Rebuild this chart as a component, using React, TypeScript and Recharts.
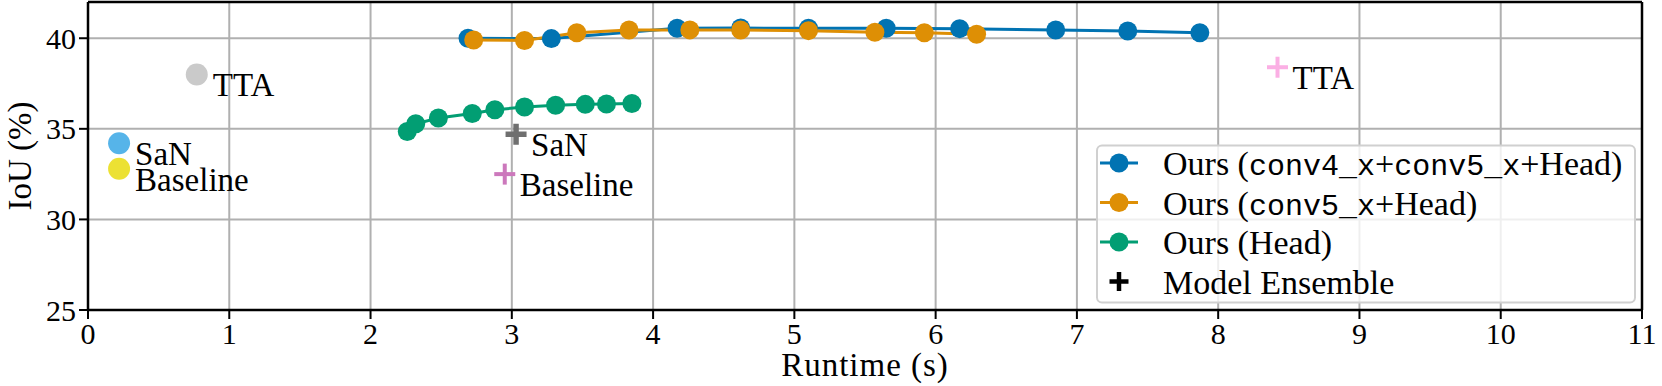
import React from 'react';
import { ComposedChart, Line, Scatter, XAxis, YAxis, CartesianGrid, ReferenceLine } from 'recharts';

// ---- data ----
const blueX = [2.69, 3.28, 4.17, 4.62, 5.1, 5.65, 6.17, 6.85, 7.36, 7.87];
const blueY = [40.0, 39.98, 40.55, 40.56, 40.55, 40.55, 40.53, 40.45, 40.4, 40.3];

const orangeX = [2.73, 3.09, 3.46, 3.83, 4.26, 4.62, 5.1, 5.57, 5.92, 6.29];
const orangeY = [39.9, 39.88, 40.3, 40.45, 40.46, 40.45, 40.42, 40.33, 40.3, 40.22];

const greenX = [2.26, 2.32, 2.48, 2.72, 2.88, 3.09, 3.31, 3.52, 3.67, 3.85];
const greenY = [34.85, 35.28, 35.6, 35.85, 36.05, 36.2, 36.3, 36.35, 36.37, 36.4];

const singleLabels = ['TTA', 'SaN', 'Baseline'];
const singleX = [0.77, 0.22, 0.22];
const singleY = [38.0, 34.2, 32.8];

const ensembleLabels = ['SaN', 'Baseline', 'TTA'];
const ensembleX = [3.03, 2.95, 8.42];
const ensembleY = [34.7, 32.5, 38.4];

const xTicks = [0, 1, 2, 3, 4, 5, 6, 7, 8, 9, 10, 11];
const yTicks = [25, 30, 35, 40];

const legendNames = ['Ours (conv4_x+conv5_x+Head)', 'Ours (conv5_x+Head)', 'Ours (Head)', 'Model Ensemble'];

// ---- styles ----
const SERIF = '"Liberation Serif", "Times New Roman", serif';
const MONO = '"Liberation Mono", "DejaVu Sans Mono", monospace';
const FS = 33;
const TICK_FS = 30;
const LEG_FS = 34;
const BLUE = '#0173b2';
const ORANGE = '#de8f05';
const GREEN = '#029e73';
const singleColors: Record<string, string> = { TTA: '#cacaca', SaN: '#56b4e9', Baseline: '#ece133' };
const ensembleColors: Record<string, string> = { SaN: '#6f6f6f', Baseline: '#cc78bc', TTA: '#fbafe4' };
const ensembleWidths: Record<string, number> = { SaN: 5.5, Baseline: 4, TTA: 4 };

const zip = (xs: number[], ys: number[]) => xs.map((x, i) => ({ x, y: ys[i] }));
const blueData = zip(blueX, blueY);
const orangeData = zip(orangeX, orangeY);
const greenData = zip(greenX, greenY);
const singleData = singleX.map((x, i) => ({ x, y: singleY[i], label: singleLabels[i] }));
const ensembleData = ensembleX.map((x, i) => ({ x, y: ensembleY[i], label: ensembleLabels[i] }));

const CircleShape = (props: any) => {
  const { cx, cy, payload } = props;
  return (
    <g>
      <circle cx={cx} cy={cy} r={11} fill={singleColors[payload.label]} />
      <text x={cx + 16} y={cy + 22} fontFamily={SERIF} fontSize={FS} fill="#000">{payload.label}</text>
    </g>
  );
};

const PlusShape = (props: any) => {
  const { cx, cy, payload } = props;
  const c = ensembleColors[payload.label];
  const w = ensembleWidths[payload.label];
  const h = 10.5;
  return (
    <g>
      <line x1={cx - h} y1={cy} x2={cx + h} y2={cy} stroke={c} strokeWidth={w} />
      <line x1={cx} y1={cy - h} x2={cx} y2={cy + h} stroke={c} strokeWidth={w} />
      <text x={cx + 15} y={cy + 22} fontFamily={SERIF} fontSize={FS} fill="#000">{payload.label}</text>
    </g>
  );
};

const renderLegendText = (name: string) => {
  const parts = name.split(/(conv\d_x)/);
  return parts.map((p, i) =>
    /conv\d_x/.test(p) ? (
      <tspan key={i} fontFamily={MONO} fontSize={30}>{p}</tspan>
    ) : (
      <tspan key={i}>{p}</tspan>
    )
  );
};

const LegendBox = () => {
  const colors = [BLUE, ORANGE, GREEN];
  const rowY = [163, 202.5, 242, 281.5];
  return (
    <svg width={1662} height={386} style={{ position: 'absolute', left: 0, top: 0, pointerEvents: 'none' }}>
      <rect x={1097} y={145.5} width={538} height={157} rx={5} fill="#ffffff" fillOpacity={0.8} stroke="#d0d0d0" strokeWidth={2} />
      {legendNames.map((n, i) => (
        <g key={n}>
          {i < 3 ? (
            <g>
              <line x1={1100} y1={rowY[i]} x2={1138} y2={rowY[i]} stroke={colors[i]} strokeWidth={3} />
              <circle cx={1119} cy={rowY[i]} r={9.5} fill={colors[i]} />
            </g>
          ) : (
            <g>
              <line x1={1109.5} y1={rowY[i]} x2={1128.5} y2={rowY[i]} stroke="#000" strokeWidth={4.5} />
              <line x1={1119} y1={rowY[i] - 9.5} x2={1119} y2={rowY[i] + 9.5} stroke="#000" strokeWidth={4.5} />
            </g>
          )}
          <text x={1163} y={rowY[i] + 12} fontFamily={SERIF} fontSize={LEG_FS} fill="#000">{renderLegendText(n)}</text>
        </g>
      ))}
    </svg>
  );
};

export default function App() {
  return (
    <div style={{ position: 'absolute', left: 0, top: 0, width: 1662, height: 386, background: '#fff' }}>
      <ComposedChart width={1662} height={386} margin={{ top: 2, right: 20, bottom: 0, left: 0 }}>
        <CartesianGrid stroke="#b0b0b0" strokeWidth={2} />
        <XAxis
          dataKey="x"
          type="number"
          domain={[0, 11]}
          ticks={xTicks}
          interval={0}
          height={76}
          axisLine={{ stroke: '#000', strokeWidth: 2.5 }}
          tickLine={{ stroke: '#000', strokeWidth: 2 }}
          tickSize={9}
          tickMargin={4}
          tick={{ fontFamily: SERIF, fontSize: TICK_FS, fill: '#000' }}
          label={{
            content: (p: any) => {
              const vb = p.viewBox;
              return (
                <text x={vb.x + vb.width / 2} y={vb.y + 66} textAnchor="middle" fontFamily={SERIF} fontSize={FS} letterSpacing={1} fill="#000">
                  Runtime (s)
                </text>
              );
            },
          }}
        />
        <YAxis
          dataKey="y"
          type="number"
          domain={[25, 42]}
          ticks={yTicks}
          interval={0}
          width={88}
          axisLine={{ stroke: '#000', strokeWidth: 2.5 }}
          tickLine={{ stroke: '#000', strokeWidth: 2 }}
          tickSize={9}
          tickMargin={3}
          tick={{ fontFamily: SERIF, fontSize: TICK_FS, fill: '#000' }}
          label={{
            content: (p: any) => {
              const vb = p.viewBox;
              const cx = 20;
              const cy = vb.y + vb.height / 2;
              return (
                <text x={cx} y={cy} transform={`rotate(-90 ${cx} ${cy})`} textAnchor="middle" dominantBaseline="central" fontFamily={SERIF} fontSize={FS} fill="#000">
                  IoU (%)
                </text>
              );
            },
          }}
        />
        <ReferenceLine y={42} stroke="#000" strokeWidth={2.5} ifOverflow="visible" />
        <ReferenceLine x={11} stroke="#000" strokeWidth={2.5} ifOverflow="visible" />
        <Line data={blueData} dataKey="y" stroke={BLUE} strokeWidth={3} dot={{ r: 9.5, fill: BLUE, stroke: BLUE, strokeWidth: 0 }} isAnimationActive={false} type="linear" />
        <Line data={orangeData} dataKey="y" stroke={ORANGE} strokeWidth={3} dot={{ r: 9.5, fill: ORANGE, stroke: ORANGE, strokeWidth: 0 }} isAnimationActive={false} type="linear" />
        <Line data={greenData} dataKey="y" stroke={GREEN} strokeWidth={3} dot={{ r: 9.5, fill: GREEN, stroke: GREEN, strokeWidth: 0 }} isAnimationActive={false} type="linear" />
        <Scatter data={singleData} dataKey="y" shape={CircleShape} isAnimationActive={false} />
        <Scatter data={ensembleData} dataKey="y" shape={PlusShape} isAnimationActive={false} />
      </ComposedChart>
      <LegendBox />
    </div>
  );
}
